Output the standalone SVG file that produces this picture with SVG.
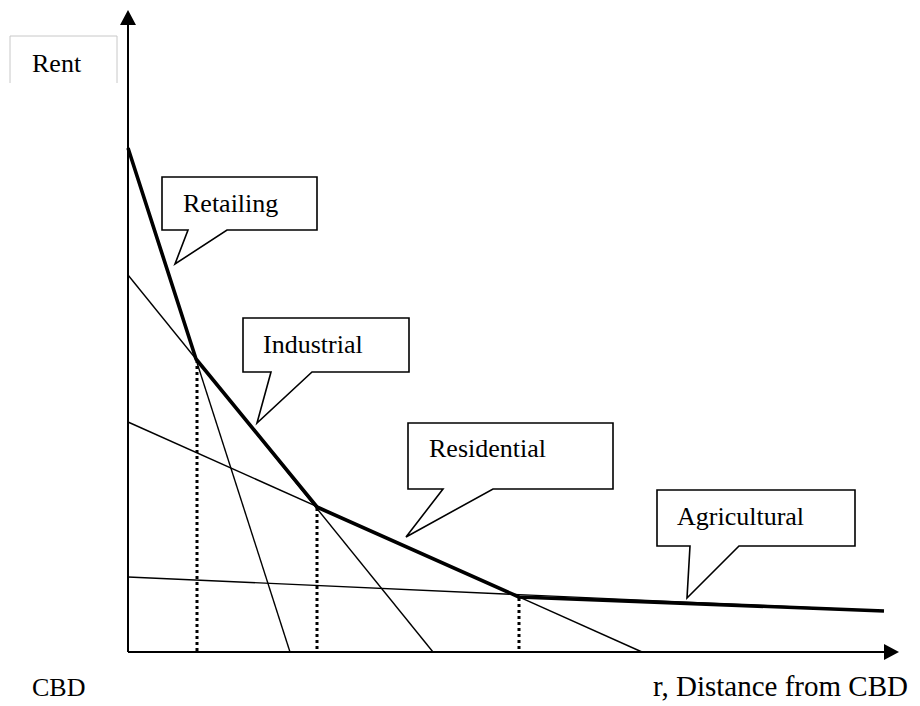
<svg xmlns="http://www.w3.org/2000/svg" width="920" height="706" viewBox="0 0 920 706">
<style>
text{font-family:"Liberation Serif","Times New Roman",serif;font-size:26px;fill:#000}
.callout{fill:#fff;stroke:#000;stroke-width:1.6;stroke-linejoin:miter}
.thin{stroke:#000;stroke-width:1.4;fill:none}
.thick{stroke:#000;stroke-width:3.6;fill:none;stroke-linejoin:round}
.dot{stroke:#000;stroke-width:3;stroke-dasharray:3 3;fill:none}
.axis{stroke:#000;stroke-width:2;fill:none}
</style>
<rect width="920" height="706" fill="#fff"/>
<g id="axes">
<line class="axis" x1="128" y1="652" x2="128" y2="22"/>
<polygon points="128,10 120,25 136,25" fill="#000"/>
<line class="axis" x1="128" y1="652" x2="886" y2="652"/>
<polygon points="899,652 884,644 884,660" fill="#000"/>
</g>
<g id="rent-label">
<path d="M10,83 V36 H117 V83" fill="none" stroke="#c8c8c8" stroke-width="1"/>
<text x="32" y="72">Rent</text>
</g>
<g id="connectors">
<line class="thin" x1="128" y1="148" x2="290" y2="652"/>
<line class="thin" x1="128" y1="275" x2="433" y2="652"/>
<line class="thin" x1="128" y1="422" x2="642" y2="652"/>
<line class="thin" x1="128" y1="577" x2="884" y2="611"/>
<polyline class="thick" points="128,148 196,359 317,507 519,597 884,611"/>
<line class="dot" x1="197" y1="360" x2="197" y2="651"/>
<line class="dot" x1="317" y1="508" x2="317" y2="651"/>
<line class="dot" x1="519" y1="598" x2="519" y2="651"/>
</g>
<g id="retailing">
<path class="callout" d="M162,177 H317 V230 H227 L175,264 L188,230 H162 Z"/>
<text x="183" y="212">Retailing</text>
</g>
<g id="industrial">
<path class="callout" d="M243,318 H409 V372 H312 L257,423 L271,372 H243 Z"/>
<text x="263" y="353">Industrial</text>
</g>
<g id="residential">
<path class="callout" d="M408,423 H613 V489 H493 L406,537 L443,489 H408 Z"/>
<text x="429" y="457">Residential</text>
</g>
<g id="agricultural">
<path class="callout" d="M657,490 H855 V546 H739 L687,598 L690,546 H657 Z"/>
<text x="677" y="525">Agricultural</text>
</g>
<g id="x-labels">
<text x="32" y="696">CBD</text>
<text x="653" y="696" style="font-size:29px">r, Distance from CBD</text>
</g>
</svg>
